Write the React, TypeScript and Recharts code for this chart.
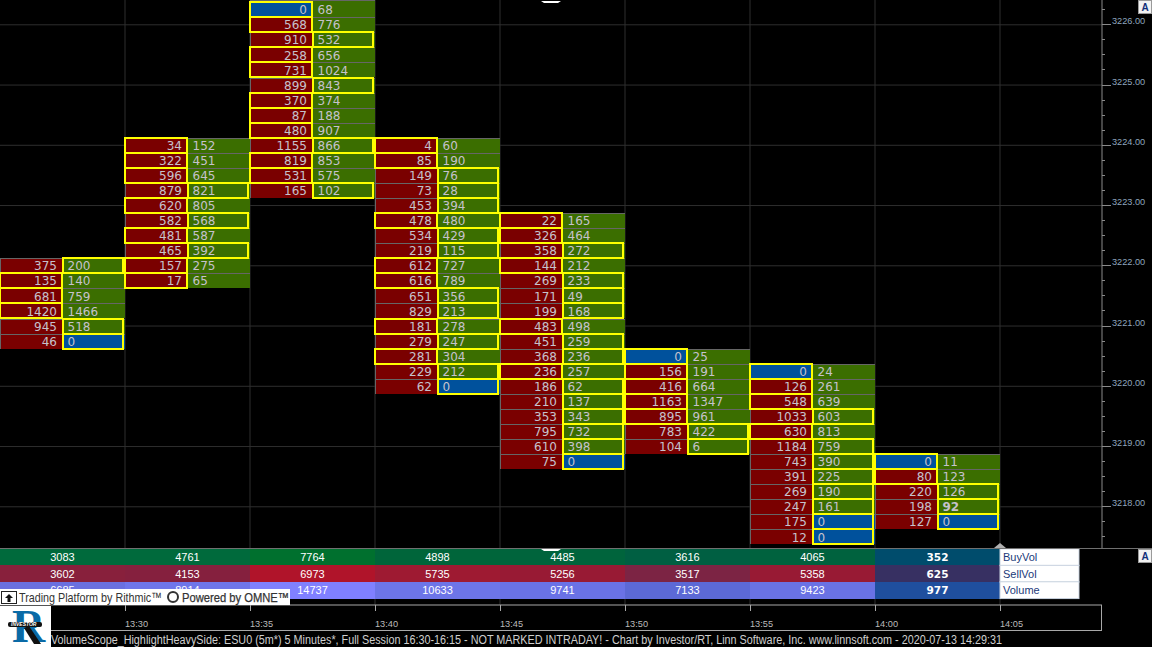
import React from "react";
import { ScatterChart, Scatter, XAxis, YAxis, ReferenceLine } from "recharts";

// ---- footprint columns (top price, sell volume, buy volume, heavy side) ----
const colEnds = [810, 815, 820, 825, 830, 835, 840, 845];
const colTops = [3222, 3224, 3226.25, 3224, 3222.75, 3220.5, 3220.25, 3218.75];
const sell0 = [375, 135, 681, 1420, 945, 46];
const buy0 = [200, 140, 759, 1466, 518, 0];
const heavy0 = "BSSSBB";
const sell1 = [34, 322, 596, 879, 620, 582, 481, 465, 157, 17];
const buy1 = [152, 451, 645, 821, 805, 568, 587, 392, 275, 65];
const heavy1 = "SSSBSBSBSS";
const sell2 = [0, 568, 910, 258, 731, 899, 370, 87, 480, 1155, 819, 531, 165];
const buy2 = [68, 776, 532, 656, 1024, 843, 374, 188, 907, 866, 853, 575, 102];
const heavy2 = "SSBSSBSSSBSSB";
const sell3 = [4, 85, 149, 73, 453, 478, 534, 219, 612, 616, 651, 829, 181, 279, 281, 229, 62];
const buy3 = [60, 190, 76, 28, 394, 480, 429, 115, 727, 789, 356, 213, 278, 247, 304, 212, 0];
const heavy3 = "SSBBBSBBSSBBSBSBB";
const sell4 = [22, 326, 358, 144, 269, 171, 199, 483, 451, 368, 236, 186, 210, 353, 795, 610, 75];
const buy4 = [165, 464, 272, 212, 233, 49, 168, 498, 259, 236, 257, 62, 137, 343, 732, 398, 0];
const heavy4 = "SSBSBBBSBBSBBBBBB";
const sell5 = [0, 156, 416, 1163, 895, 783, 104];
const buy5 = [25, 191, 664, 1347, 961, 422, 6];
const heavy5 = "SSSSSBB";
const sell6 = [0, 126, 548, 1033, 630, 1184, 743, 391, 269, 247, 175, 12];
const buy6 = [24, 261, 639, 603, 813, 759, 390, 225, 190, 161, 0, 0];
const heavy6 = "SSSBSBBBBBBB";
const sell7 = [0, 80, 220, 198, 127];
const buy7 = [11, 123, 126, 92, 0];
const heavy7 = "SSBBB";
const boldBuy = [92];

// ---- summary table ----
const buyVol = [3083, 4761, 7764, 4898, 4485, 3616, 4065, 352];
const sellVol = [3602, 4153, 6973, 5735, 5256, 3517, 5358, 625];
const totalVol = [6685, 8914, 14737, 10633, 9741, 7133, 9423, 977];
const rowNames = ["BuyVol", "SellVol", "Volume"];
const buyFills = ["#006a3c", "#006a3c", "#00702e", "#00653a", "#00643c", "#005f42", "#00623e", "#004c6c"];
const sellFills = ["#88203c", "#85203e", "#b0142a", "#9e1a32", "#981a34", "#7c2444", "#981a34", "#373062"];
const volFills = ["#6a70e0", "#6f76ea", "#8080ff", "#6d75e8", "#6a72e6", "#5c69d6", "#6a72e4", "#1f4f9e"];

// ---- axes ----
const priceTicks = [
  3217.5, 3217.75, 3218, 3218.25, 3218.5, 3218.75, 3219, 3219.25, 3219.5, 3219.75, 3220, 3220.25,
  3220.5, 3220.75, 3221, 3221.25, 3221.5, 3221.75, 3222, 3222.25, 3222.5, 3222.75, 3223, 3223.25,
  3223.5, 3223.75, 3224, 3224.25, 3224.5, 3224.75, 3225, 3225.25, 3225.5, 3225.75, 3226, 3226.25,
];
const priceLines = [3218, 3219, 3220, 3221, 3222, 3223, 3224, 3225, 3226];
const timeTicks = [810, 815, 820, 825, 830, 835, 840, 845];
const timeLabels = ["13:30", "13:35", "13:40", "13:45", "13:50", "13:55", "14:00", "14:05"];
const footer =
  "VolumeScope_HighlightHeavySide: ESU0 (5m*) 5 Minutes*, Full Session 16:30-16:15 - NOT MARKED INTRADAY! - Chart by Investor/RT, Linn Software, Inc. www.linnsoft.com - 2020-07-13 14:29:31";

// ---- tables built from the arrays above ----
const sells = [sell0, sell1, sell2, sell3, sell4, sell5, sell6, sell7];
const buys = [buy0, buy1, buy2, buy3, buy4, buy5, buy6, buy7];
const heavies = [heavy0, heavy1, heavy2, heavy3, heavy4, heavy5, heavy6, heavy7];
const cells = sells.flatMap((col, c) =>
  col.map((s, i) => ({
    t: colEnds[c] - 2.5,
    price: colTops[c] - i * 0.25,
    sell: s,
    buy: buys[c][i],
    heavy: heavies[c][i],
    bold: c === 7 && boldBuy.includes(buys[c][i]),
  }))
);
const tableRows = [buyVol, sellVol, totalVol];
const tableFills = [buyFills, sellFills, volFills];
const tableCells = tableRows.flatMap((row, r) =>
  row.map((v, c) => ({ t: colEnds[c] - 2.5, row: r, value: v, fill: tableFills[r][c], last: c === row.length - 1 }))
);
const tableLabels = rowNames.map((name, r) => ({ t: 845, row: r, name }));

const HALF = 62.5;
const SANS = "'Liberation Sans', Arial, sans-serif";
const DEJA = "'DejaVu Sans', Verdana, sans-serif";
const X_DOMAIN: [number, number] = [805, 849.08];
const GRID = "#2e2e2e";
const AXIS = "#8a8a8a";
const FRAME = "#a8a8a8";

function CellShape(props: any) {
  const { cx, cy, payload } = props;
  const rawTop = Math.round(cy - 7.5);
  // the topmost row runs off the top of the pane
  const top = rawTop < 4 ? 0 : rawTop;
  const bottom = Math.round(cy + 7.5);
  const left = Math.round(cx - HALF);
  const mid = Math.round(cx - 0.5);
  const right = Math.round(cx + HALF);
  const h = bottom - top;
  return (
    <g>
      <rect x={left} y={top} width={right - left} height={h} fill="#666" shapeRendering="crispEdges" />
      <rect x={left + 1} y={top + 1} width={mid - left - 1} height={h - 1} fill={payload.sell === 0 ? "#00519c" : "#7a0000"} shapeRendering="crispEdges" />
      <rect x={mid + 1} y={top + 1} width={right - mid - 1} height={h - 1} fill={payload.buy === 0 ? "#00519c" : "#3b6e00"} shapeRendering="crispEdges" />
      <text x={mid - 5} y={cy + 4.6} textAnchor="end" fontFamily={DEJA} fontSize={12} fill="#c6c2cc">{payload.sell}</text>
      <text x={mid + 5.5} y={cy + 4.6} fontFamily={DEJA} fontSize={12} fontWeight={payload.bold ? 700 : 400} fill="#c6c2cc">{payload.buy}</text>
    </g>
  );
}

function HighlightShape(props: any) {
  const { cx, cy, payload } = props;
  const top = Math.round(cy - 7.5);
  const bottom = Math.round(cy + 7.5);
  const left = Math.round(cx - HALF);
  const mid = Math.round(cx - 0.5);
  const right = Math.round(cx + HALF);
  const isSell = payload.heavy === "S";
  const x0 = isSell ? left : mid + 1;
  const x1 = isSell ? mid : right - 2;
  return (
    <rect x={x0} y={top} width={x1 - x0} height={bottom - top} fill="none" stroke="#ffff00" strokeWidth={2} shapeRendering="crispEdges" />
  );
}

function TableCell(props: any) {
  const { cx, cy, payload } = props;
  return (
    <g>
      <rect x={cx - HALF} y={cy - 8.4} width={HALF * 2} height={16.8} fill={payload.fill} shapeRendering="crispEdges" />
      <text
        x={cx}
        y={cy + 3.8}
        textAnchor="middle"
        fontFamily={payload.last ? DEJA : SANS}
        fontWeight={payload.last ? 700 : 400}
        fontSize={payload.last ? 10.5 : 11}
        fill="#ffffff"
      >
        {payload.value}
      </text>
    </g>
  );
}

function TableLabel(props: any) {
  const { cx, cy, payload } = props;
  return (
    <g>
      <rect x={cx} y={cy - 8.4} width={79} height={16.8} fill="#ffffff" stroke="#c9d3e0" strokeWidth={1} />
      <text x={cx + 3} y={cy + 3.8} fontFamily={SANS} fontSize={11} fill="#1b3a7a">{payload.name}</text>
    </g>
  );
}

function PriceTick(props: any) {
  const { x, y, payload } = props;
  const major = Number.isInteger(payload.value);
  return (
    <g>
      <line x1={x} x2={x + (major ? 9 : 3)} y1={y} y2={y} stroke={AXIS} strokeWidth={1} shapeRendering="crispEdges" />
      {major ? (
        <text x={x + 10} y={y - 0.5} fontFamily={SANS} fontSize={9.2} fill="#8fa6bf">{payload.value.toFixed(2)}</text>
      ) : null}
    </g>
  );
}

function TimeTick(props: any) {
  const { x, y, payload } = props;
  return (
    <g>
      <line x1={x} x2={x} y1={y} y2={y + 6} stroke={FRAME} strokeWidth={1} shapeRendering="crispEdges" />
      <text x={x} y={y + 21.5} fontFamily={SANS} fontSize={9.2} fill="#bcbcbc">
        {timeLabels[timeTicks.indexOf(payload.value)]}
      </text>
    </g>
  );
}

function Chrome() {
  return (
    <svg width={1152} height={647} style={{ position: "absolute", left: 0, top: 0, pointerEvents: "none" }}>
      <line x1={0} x2={1152} y1={548.5} y2={548.5} stroke="#707070" strokeWidth={1} />
      <path d="M541 1 L561 1 L558 3 L544 3 Z" fill="#ffffff" />
      <path d="M541 549 L561 549 L558 551 L544 551 Z" fill="#ffffff" />
      <path d="M994 548 L1000 543 L1006 548 Z" fill="#b0b0b0" />
      <line x1={1101.5} x2={1101.5} y1={605} y2={630.5} stroke={FRAME} />
      <line x1={0} x2={1102} y1={630.5} y2={630.5} stroke={FRAME} />
      {[0, 549].map((y) => (
        <g key={y}>
          <rect x={1138.5} y={y + 0.5} width={13} height={13} fill="#f2f2f2" stroke="#9a9a9a" />
          <text x={1145} y={y + 11} textAnchor="middle" fontFamily={SANS} fontWeight={700} fontSize={10} fill="#12307a">A</text>
        </g>
      ))}
      <text x={51} y={644} fontFamily={SANS} fontSize={12} fill="#cfcfcf" textLength={951} lengthAdjust="spacingAndGlyphs">{footer}</text>
      <rect x={0} y={589} width={290} height={16} fill="#ffffff" />
      <rect x={1.5} y={591.5} width={15} height={12} fill="#fff" stroke="#222" />
      <path d="M5 598 L9 594 L13 598 L10.5 598 L10.5 602 L7.5 602 L7.5 598 Z" fill="#111" />
      <text x={19} y={602} fontFamily={SANS} fontSize={13.6} fill="#333" textLength={143} lengthAdjust="spacingAndGlyphs">Trading Platform by Rithmic™</text>
      <circle cx={173} cy={597} r={5} fill="none" stroke="#333" strokeWidth={2} />
      <text x={182} y={602} fontFamily={SANS} fontSize={13} fill="#333" stroke="#333" strokeWidth={0.25} textLength={107} lengthAdjust="spacingAndGlyphs">Powered by OMNE™</text>
      <rect x={0} y={606} width={51} height={41} fill="#ffffff" />
      <text x={12} y={642} fontFamily="'Liberation Serif', serif" fontWeight={700} fontSize={46} fill="#0a6aa6">R</text>
      <path d="M29 626 L41 644 L34 644 L24 628 Z" fill="#111" />
      <rect x={8} y={622} width={34} height={5} rx={2} fill="#111" />
      <text x={11} y={626.3} fontFamily={SANS} fontWeight={700} fontStyle="italic" fontSize={5} fill="#fff">INVESTOR</text>
    </svg>
  );
}

export default function App() {
  return (
    <div style={{ position: "absolute", left: 0, top: 0, width: 1152, height: 647, background: "#000", overflow: "hidden" }}>
      <div style={{ position: "absolute", left: 0, top: 0 }}>
        <ScatterChart width={1152} height={548} margin={{ top: 0, right: 0, bottom: 0, left: 0 }}>
          <XAxis type="number" dataKey="t" domain={X_DOMAIN} hide allowDataOverflow />
          <YAxis
            type="number"
            dataKey="price"
            orientation="right"
            width={50}
            domain={[3217.316, 3226.4116]}
            ticks={priceTicks}
            interval={0}
            allowDataOverflow
            tickLine={false}
            tickSize={0}
            tickMargin={0}
            axisLine={{ stroke: AXIS }}
            tick={<PriceTick />}
          />
          {priceLines.map((p) => (
            <ReferenceLine key={p} y={p} stroke={GRID} strokeWidth={1} />
          ))}
          {timeTicks.map((t) => (
            <ReferenceLine key={t} x={t} stroke={GRID} strokeWidth={1} />
          ))}
          <Scatter data={cells} isAnimationActive={false} shape={<CellShape />} />
          <Scatter data={cells} isAnimationActive={false} shape={<HighlightShape />} />
        </ScatterChart>
      </div>
      <div style={{ position: "absolute", left: 0, top: 549 }}>
        <ScatterChart width={1152} height={98} margin={{ top: 0, right: 50, bottom: 16, left: 0 }}>
          <XAxis
            type="number"
            dataKey="t"
            domain={X_DOMAIN}
            ticks={timeTicks}
            interval={0}
            allowDataOverflow
            height={26}
            tickLine={false}
            tickSize={0}
            tickMargin={0}
            axisLine={{ stroke: FRAME }}
            tick={<TimeTick />}
          />
          <YAxis type="number" dataKey="row" domain={[-0.5, 2.9]} reversed hide allowDataOverflow />
          {timeTicks.map((t) => (
            <ReferenceLine key={t} x={t} stroke={GRID} strokeWidth={1} />
          ))}
          <Scatter data={tableCells} isAnimationActive={false} shape={<TableCell />} />
          <Scatter data={tableLabels} isAnimationActive={false} shape={<TableLabel />} />
        </ScatterChart>
      </div>
      <Chrome />
    </div>
  );
}
